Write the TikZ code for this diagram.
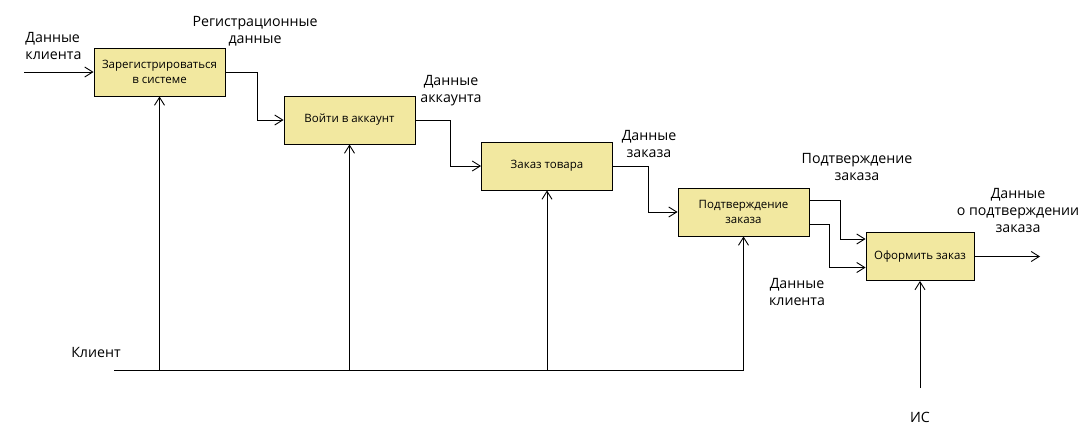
\documentclass[tikz,border=0pt]{standalone}
\usepackage{fontspec}
\setmainfont{Open Sans}
\usetikzlibrary{arrows.meta}
\definecolor{boxfill}{RGB}{242,232,160}

\begin{document}
\begin{tikzpicture}[x=1pt,y=-1pt,
box/.style={draw,fill=boxfill,minimum width=131pt,minimum height=48pt,
inner sep=0pt,align=center,font=\fontsize{11.5}{15}\selectfont},
lbl/.style={align=center,inner sep=0pt,font=\fontsize{14.2}{17}\selectfont},
flow/.style={-{Straight Barb[length=8pt,width=10pt]}},
every path/.style={line width=0.9pt}]
\useasboundingbox (0,0) rectangle (1092,426);
\node [box] (reg) at (159.5,72) {Зарегистрироваться\\в системе};
\node [box] (login) at (349.5,120) {Войти в аккаунт};
\node [box] (order) at (547,166) {Заказ товара};
\node [box] (confirm) at (743.5,212) {Подтверждение\\заказа};
\node [box,minimum width=108pt] (place) at (920,256.5) {Оформить заказ};
\coordinate (in) at (24,72);
\coordinate (out) at (1040,256.5);
\coordinate (client) at (114,370);
\coordinate (is) at (920,388);
\draw [flow] (in) -- (reg.west);
\draw [flow] (reg.east) -- ++(32,0) |- (login.west);
\draw [flow] (login.east) -- ++(35,0) |- (order.west);
\draw [flow] (order.east) -- ++(35,0) |- (confirm.west);
\draw [flow] ([yshift=12pt]confirm.east) -- ++(31,0) |- ([yshift=17.5pt]place.west);
\draw [flow] ([yshift=-12pt]confirm.east) -- ++(20,0) |- ([yshift=-11pt]place.west);
\draw [flow] (place.east) -- (out);
\draw [flow] (client) -| (confirm.south);
\foreach \b in {reg,login,order}
  \draw [flow] (\b.south |- client) -- (\b.south);
\draw [flow] (is) -- (place.south);
\node [lbl,align=left,anchor=west] (lin) at (25,46) {Данные\\клиента};
\node [lbl] (lreg) at (255,31) {Регистрационные\\данные};
\node [lbl] (llogin) at (451,91) {Данные\\аккаунта};
\node [lbl] (lorder) at (649,143.5) {Данные\\заказа};
\node [lbl] (lconfirm) at (857,166.5) {Подтверждение\\заказа};
\node [lbl] (lclient) at (797,291.5) {Данные\\клиента};
\node [lbl] (lout) at (1018,210) {Данные\\о подтверждении\\заказа};
\node [lbl] (lmech) at (96,352) {Клиент};
\node [lbl] (lis) at (920,417) {ИС};
\end{tikzpicture}
\end{document}
